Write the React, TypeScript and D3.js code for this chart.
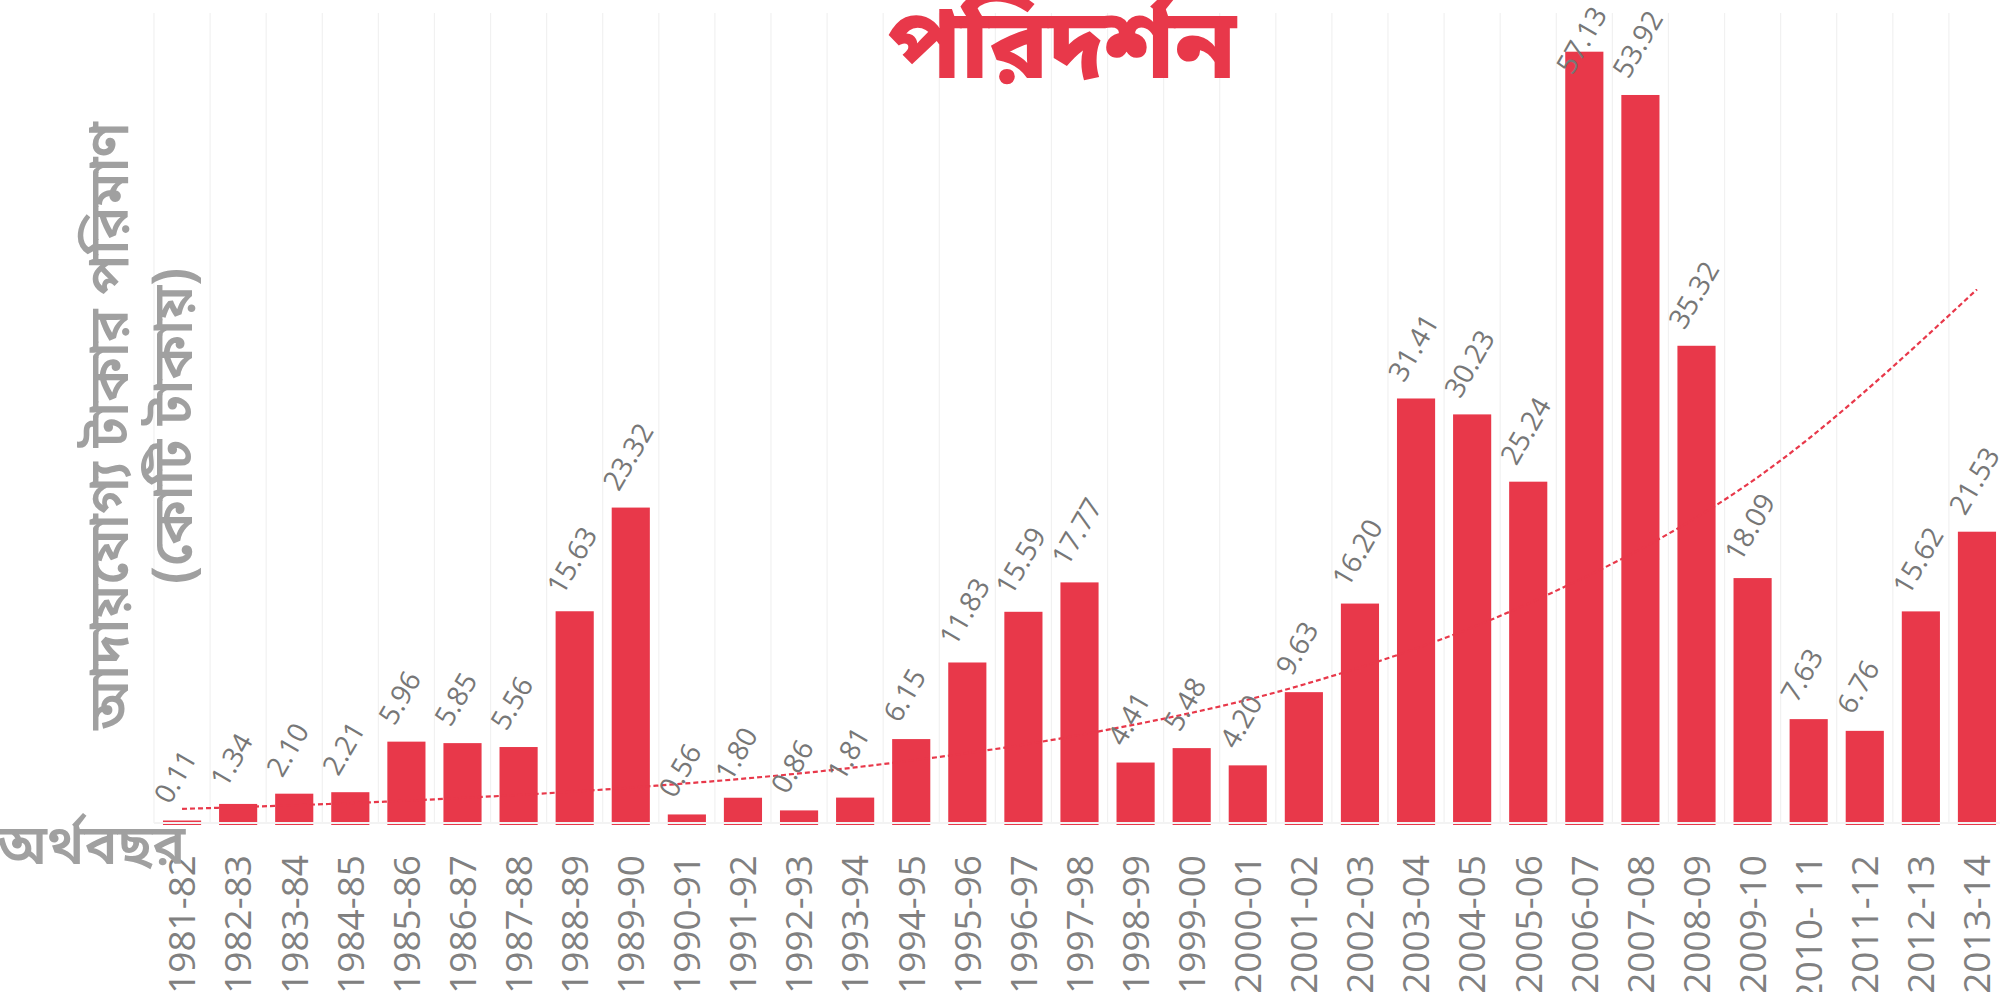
import React from "react";
import * as d3 from "d3";

const categories = [
  "1981-82", "1982-83", "1983-84", "1984-85", "1985-86", "1986-87", "1987-88",
  "1988-89", "1989-90", "1990-91", "1991-92", "1992-93", "1993-94", "1994-95",
  "1995-96", "1996-97", "1997-98", "1998-99", "1999-00", "2000-01", "2001-02",
  "2002-03", "2003-04", "2004-05", "2005-06", "2006-07", "2007-08", "2008-09",
  "2009-10", "2010- 11", "2011-12", "2012-13", "2013-14",
];
const values = [
  0.11, 1.34, 2.10, 2.21, 5.96, 5.85, 5.56, 15.63, 23.32, 0.56, 1.80, 0.86,
  1.81, 6.15, 11.83, 15.59, 17.77, 4.41, 5.48, 4.20, 9.63, 16.20, 31.41, 30.23,
  25.24, 57.13, 53.92, 35.32, 18.09, 7.63, 6.76, 15.62, 21.53,
];
// trend line at a few categories
const trendCats = ["1981-82", "1985-86", "1989-90", "1993-94", "1997-98", "2001-02", "2005-06", "2009-10", "2013-14"];
const trendValues = [0.97, 1.58, 2.55, 4.05, 6.45, 10.2, 16.2, 25.3, 39.5];
const yDomain = [0, 60];

const titleText = "পরিদর্শন";
const yTitleLines = ["আদায়যোগ্য টাকার পরিমাণ", "(কোটি টাকায়)"];
const xTitleText = "অর্থবছর";

const W = 2000;
const H = 992;
const RED = "#e8384a";
const GRAY_TITLE = "#a0a0a0";
const BN = "'Noto Sans Bengali', 'Noto Sans', sans-serif";
const NUM = "'Open Sans', 'Noto Sans', sans-serif";

export default function App() {
  const x = d3
    .scaleBand<string>()
    .domain(categories)
    .range([154, 2005])
    .paddingInner(0.32)
    .paddingOuter(0.16);
  const y = d3.scaleLinear().domain(yDomain).range([822, 13]);
  const step = x.step();
  const x0 = 154;
  const cx = (c: string) => (x(c) as number) + x.bandwidth() / 2;

  const line = d3
    .line<number>()
    .x((_, i) => cx(trendCats[i]))
    .y((d) => y(d))
    .curve(d3.curveMonotoneX);

  const gridXs = d3.range(categories.length + 1).map((k) => x0 + k * step);

  return (
    <div style={{ position: "absolute", left: 0, top: 0 }}>
      <svg width={W} height={H} style={{ display: "block", background: "#fff" }}>
        {gridXs.map((gx, i) => (
          <line key={"g" + i} x1={gx} x2={gx} y1={13} y2={823} stroke="#f1f1f1" strokeWidth={1.2} />
        ))}
        {categories.map((c, i) => (
          <rect
            key={"b" + c}
            x={x(c)}
            y={y(values[i])}
            width={x.bandwidth()}
            height={y(0) - y(values[i]) + 3}
            fill={RED}
          />
        ))}
        <line x1={x0} x2={W} y1={y(0) + 1} y2={y(0) + 1} stroke="#f3f3f3" strokeWidth={2} />
        <path
          d={line(trendValues) || ""}
          fill="none"
          stroke={RED}
          strokeWidth={2.2}
          strokeDasharray="5 3"
        />
        {categories.map((c, i) => {
          const ax = cx(c) - 12;
          const ay = Math.max(y(values[i]) - 15, 76);
          return (
            <text
              key={"v" + c}
              transform={`translate(${ax},${ay}) rotate(-60)`}
              fontFamily={NUM}
              fontSize={28}
              fill="#777"
            >
              {values[i].toFixed(2)}
            </text>
          );
        })}
        {categories.map((c) => (
          <text
            key={"t" + c}
            transform={`translate(${cx(c)},855) rotate(-90)`}
            textAnchor="end"
            dy="0.36em"
            fontFamily={NUM}
            fontSize={37}
            fill="#808080"
          >
            {c}
          </text>
        ))}
        <text
          x={1062}
          y={78}
          textAnchor="middle"
          fontFamily={BN}
          fontWeight={800}
          fontSize={98}
          fill={RED}
        >
          {titleText}
        </text>
        <g transform="translate(128,426) rotate(-90)">
          <text textAnchor="middle" fontFamily={BN} fontWeight={600} fontSize={55} fill={GRAY_TITLE}>
            {yTitleLines[0]}
          </text>
          <text y={64} textAnchor="middle" fontFamily={BN} fontWeight={600} fontSize={55} fill={GRAY_TITLE}>
            {yTitleLines[1]}
          </text>
        </g>
        <text x={-3} y={864} fontFamily={BN} fontWeight={600} fontSize={55} fill={GRAY_TITLE}>
          {xTitleText}
        </text>
      </svg>
    </div>
  );
}
